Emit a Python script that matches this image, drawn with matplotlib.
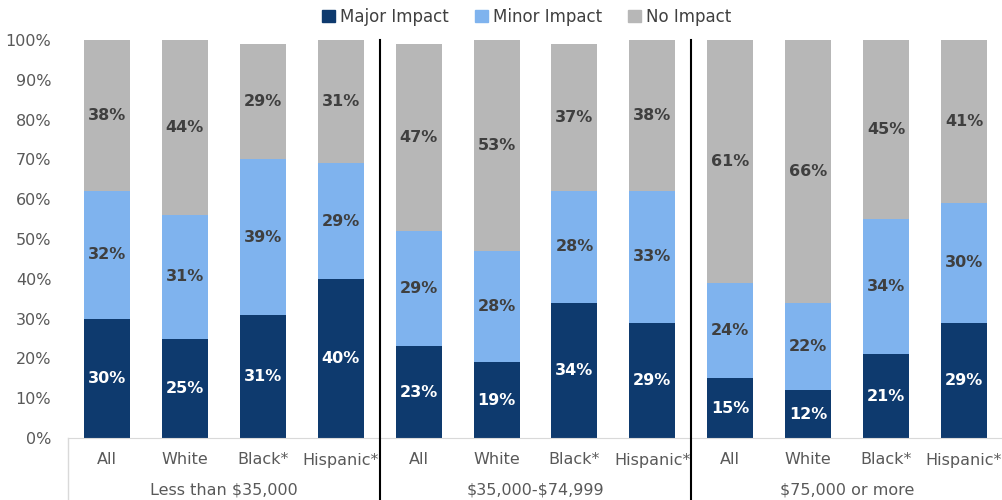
import matplotlib.pyplot as plt
from matplotlib.patches import Patch
from matplotlib.transforms import blended_transform_factory
import numpy as np

groups = ['Less than \\$35,000', '\\$35,000-\\$74,999', '\\$75,000 or more']
cats = ['All', 'White', 'Black*', 'Hispanic*']
series = ['Major Impact', 'Minor Impact', 'No Impact']

major = [30, 25, 31, 40, 23, 19, 34, 29, 15, 12, 21, 29]
minor = [32, 31, 39, 29, 29, 28, 28, 33, 24, 22, 34, 30]
none_ = [38, 44, 29, 31, 47, 53, 37, 38, 61, 66, 45, 41]

colors = ['#0E3A6E', '#7FB3EE', '#B7B7B7']
txt_colors = ['white', '#3F3F3F', '#3F3F3F']

plt.rcParams['font.family'] = ['DejaVu Sans']

fig = plt.figure(figsize=(10.03, 5), dpi=100)
ax = fig.add_axes([68/1003, 62/500, 935/1003, 398/500])

x = np.arange(len(major))
bottom = np.zeros(len(major))
for vals, col, tcol in zip([major, minor, none_], colors, txt_colors):
    vals = np.array(vals)
    ax.bar(x, vals/100, bottom=bottom/100, width=0.59, color=col, zorder=2)
    for xi, b, v in zip(x, bottom, vals):
        ax.text(xi, (b + v/2)/100, f'{v}%', ha='center', va='center',
                color=tcol, fontsize=11.5, fontweight='bold', zorder=3)
    bottom = bottom + vals

ax.set_xlim(-0.5, len(major) - 0.5)
ax.set_ylim(0, 1)
ax.set_yticks(np.arange(0, 1.01, 0.1))
ax.set_yticklabels([f'{int(round(t*100))}%' for t in np.arange(0, 1.01, 0.1)])
ax.tick_params(axis='y', length=0, pad=12, labelsize=11.5, labelcolor='#595959')
ax.set_xticks([])
for s in ['top', 'right', 'left']:
    ax.spines[s].set_visible(False)
ax.spines['bottom'].set_color('#D9D9D9')

# category and group labels below the axis
tr = blended_transform_factory(ax.transData, fig.transFigure)
for i in range(len(major)):
    ax.text(i, 40/500, cats[i % 4], transform=tr, ha='center', va='center',
            fontsize=11.5, color='#595959')
for g, name in enumerate(groups):
    ax.text(g*4 + 1.5, 10/500, name, transform=tr, ha='center', va='center',
            fontsize=11.5, color='#595959')

# separators
ax.plot([-0.5, -0.5], [0, 62/500], transform=tr, color='#D9D9D9', lw=1, clip_on=False)
ax.plot([11.5, 11.5], [0, 62/500], transform=tr, color='#D9D9D9', lw=1, clip_on=False)
for b in [3.5, 7.5]:
    ax.plot([b, b], [0, 460/500], transform=tr, color='black', lw=1.5,
            clip_on=False, zorder=4)

handles = [Patch(color=c) for c in colors]
fig.legend(handles, series, loc='center', bbox_to_anchor=(0.525, 0.966), ncol=3,
           frameon=False, fontsize=12, handlelength=0.75, handleheight=0.75,
           handletextpad=0.3, columnspacing=1.6, labelcolor='#404040')

fig.savefig('out.png', dpi=100)
